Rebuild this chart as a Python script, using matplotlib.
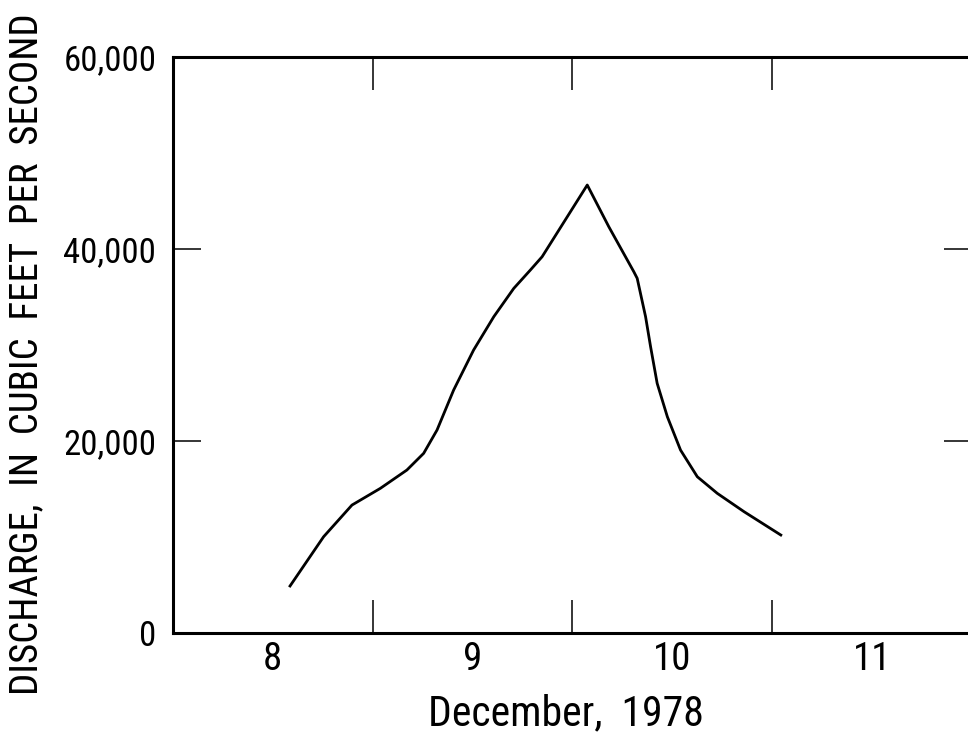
import numpy as np
import matplotlib
matplotlib.use("Agg")
import matplotlib.pyplot as plt
from matplotlib import font_manager
from matplotlib.ticker import FixedLocator, NullFormatter, FixedFormatter

# discharge hydrograph
# time in days of December 1978 (8.0 = start of Dec 8)
day = [8.586, 8.754, 8.896, 9.038, 9.171, 9.255, 9.322, 9.405, 9.505,
       9.606, 9.706, 9.789, 9.848, 10.074, 10.182, 10.307, 10.324, 10.366,
       10.391, 10.424, 10.475, 10.541, 10.625, 10.725, 10.859, 11.043]
discharge = [4900, 10030, 13330, 15070, 16980, 18720, 21150, 25310, 29480,
             32950, 35900, 37810, 39200, 46670, 42320, 37640, 36950, 32950,
             29830, 26010, 22530, 19060, 16280, 14550, 12640, 10210]

day_ticks = [9, 10, 11]
day_label_pos = [8.5, 9.5, 10.5, 11.5]
day_labels = ["8", "9", "10", "11"]
q_ticks = [0, 20000, 40000, 60000]
q_labels = ["0", "20,000", "40,000", "60,000"]

# pick a narrow face if one is around
names = set(f.name for f in font_manager.fontManager.ttflist)
font = "DejaVu Sans"
for cand in ["Roboto Condensed", "Liberation Sans Narrow", "Open Sans Condensed",
             "Noto Sans Condensed", "DejaVu Sans Condensed"]:
    if cand in names:
        font = cand
        break
plt.rcParams['font.family'] = [font, 'DejaVu Sans']

fig = plt.figure(figsize=(9.68, 7.41), dpi=100)
ax = fig.add_axes([0.1787, 0.1457, 0.8254, 0.7773])

ax.plot(day, discharge, color="black", lw=2.0)

ax.set_xlim(8, 12)
ax.set_ylim(0, 60000)

for s in ax.spines.values():
    s.set_linewidth(2.2)

ax.xaxis.set_major_locator(FixedLocator(day_ticks))
ax.xaxis.set_major_formatter(NullFormatter())
ax.xaxis.set_minor_locator(FixedLocator(day_label_pos))
ax.xaxis.set_minor_formatter(FixedFormatter(day_labels))
ax.tick_params(axis="x", which="major", direction="in", length=24, width=1.1,
               top=True, bottom=True)
ax.tick_params(axis="x", which="minor", length=0, pad=6, labelsize=28)

ax.yaxis.set_major_locator(FixedLocator(q_ticks))
ax.yaxis.set_major_formatter(FixedFormatter(q_labels))
ax.tick_params(axis="y", which="major", direction="in", length=20, width=1.1,
               left=True, right=True, pad=12, labelsize=25)

fig.text(27 / 968, 0.522, "DISCHARGE,  IN  CUBIC  FEET  PER  SECOND",
         rotation=90, ha="center", va="center", fontsize=28)
fig.text(0.585, 1 - 714 / 741, "December,  1978", ha="center", va="center",
         fontsize=30)

fig.savefig("out.png", dpi=100)
